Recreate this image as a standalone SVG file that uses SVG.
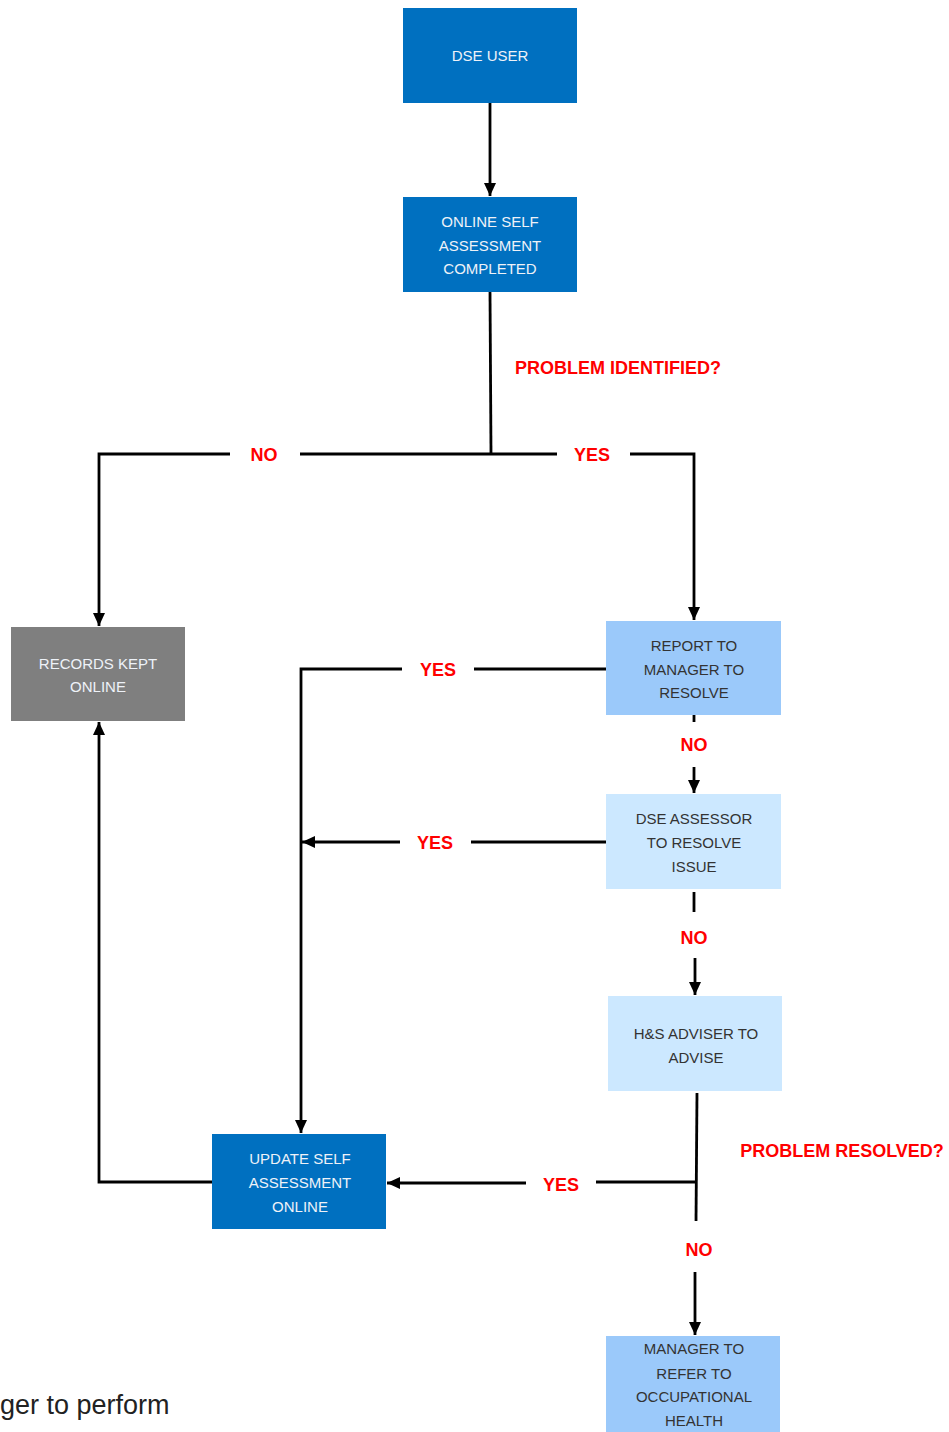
<svg xmlns="http://www.w3.org/2000/svg" width="949" height="1432" viewBox="0 0 949 1432">
<style>
.t{font-family:"Liberation Sans",Arial,sans-serif;font-size:15px;text-anchor:middle}
.w{fill:#EEF2F8}
.d{fill:#333333}
.lbl{font-family:"Liberation Sans",Arial,sans-serif;font-size:18px;font-weight:bold;fill:#FF0000;text-anchor:middle}
.c{stroke:#000;stroke-width:2.8;fill:none}
.dark{fill:#0070C0}
.gray{fill:#7F7F7F}
.mid{fill:#9BC9FA}
.pale{fill:#CCE8FF}
</style>
<defs>
<marker id="ah" markerUnits="userSpaceOnUse" markerWidth="14" markerHeight="14" refX="13" refY="7" orient="auto">
<path d="M0,1 L13,7 L0,13 Z" fill="#000"/>
</marker>
</defs>
<g id="connectors">
<path class="c" d="M490,103 V196" marker-end="url(#ah)"/>
<path class="c" d="M490,292 L491,454"/>
<path class="c" d="M230,454 H99 V626" marker-end="url(#ah)"/>
<path class="c" d="M300,454 H557"/>
<path class="c" d="M630,454 H694 V620" marker-end="url(#ah)"/>
<path class="c" d="M606,669 H474"/>
<path class="c" d="M402,669 H301 V1133" marker-end="url(#ah)"/>
<path class="c" d="M694,715 V722"/>
<path class="c" d="M694,767 V793" marker-end="url(#ah)"/>
<path class="c" d="M606,842 H471"/>
<path class="c" d="M400,842 H302" marker-end="url(#ah)"/>
<path class="c" d="M694,892 V912"/>
<path class="c" d="M695,958 V995" marker-end="url(#ah)"/>
<path class="c" d="M697,1093 L696,1221"/>
<path class="c" d="M696,1182 H596"/>
<path class="c" d="M526,1183 H387" marker-end="url(#ah)"/>
<path class="c" d="M695,1272 V1335" marker-end="url(#ah)"/>
<path class="c" d="M212,1182 H99 V722" marker-end="url(#ah)"/>
</g>
<g id="labels">
<text class="lbl" x="618" y="374">PROBLEM IDENTIFIED?</text>
<text class="lbl" x="264" y="461">NO</text>
<text class="lbl" x="592" y="461">YES</text>
<text class="lbl" x="438" y="676">YES</text>
<text class="lbl" x="694" y="751">NO</text>
<text class="lbl" x="435" y="849">YES</text>
<text class="lbl" x="694" y="944">NO</text>
<text class="lbl" x="842" y="1157">PROBLEM RESOLVED?</text>
<text class="lbl" x="561" y="1191">YES</text>
<text class="lbl" x="699" y="1256">NO</text>
</g>
<g id="dse-user">
<rect class="dark" x="403" y="8" width="174" height="95"/>
<text class="t w" x="490" y="61">DSE USER</text>
</g>
<g id="online-self-assessment">
<rect class="dark" x="403" y="197" width="174" height="95"/>
<text class="t w" x="490" y="227">ONLINE SELF</text>
<text class="t w" x="490" y="251">ASSESSMENT</text>
<text class="t w" x="490" y="274">COMPLETED</text>
</g>
<g id="records-kept">
<rect class="gray" x="11" y="627" width="174" height="94"/>
<text class="t w" x="98" y="669">RECORDS KEPT</text>
<text class="t w" x="98" y="692">ONLINE</text>
</g>
<g id="report-to-manager">
<rect class="mid" x="606" y="621" width="175" height="94"/>
<text class="t d" x="694" y="651">REPORT TO</text>
<text class="t d" x="694" y="675">MANAGER TO</text>
<text class="t d" x="694" y="698">RESOLVE</text>
</g>
<g id="dse-assessor">
<rect class="pale" x="606" y="794" width="175" height="95"/>
<text class="t d" x="694" y="824">DSE ASSESSOR</text>
<text class="t d" x="694" y="848">TO RESOLVE</text>
<text class="t d" x="694" y="872">ISSUE</text>
</g>
<g id="hs-adviser">
<rect class="pale" x="608" y="996" width="174" height="95"/>
<text class="t d" x="696" y="1039">H&amp;S ADVISER TO</text>
<text class="t d" x="696" y="1063">ADVISE</text>
</g>
<g id="update-self-assessment">
<rect class="dark" x="212" y="1134" width="174" height="95"/>
<text class="t w" x="300" y="1164">UPDATE SELF</text>
<text class="t w" x="300" y="1188">ASSESSMENT</text>
<text class="t w" x="300" y="1212">ONLINE</text>
</g>
<g id="manager-refer">
<rect class="mid" x="606" y="1336" width="174" height="96"/>
<text class="t d" x="694" y="1354">MANAGER TO</text>
<text class="t d" x="694" y="1379">REFER TO</text>
<text class="t d" x="694" y="1402">OCCUPATIONAL</text>
<text class="t d" x="694" y="1426">HEALTH</text>
</g>
<text x="0" y="1414" font-family="Liberation Sans, Arial, sans-serif" font-size="27" fill="#222">ger to perform</text>
</svg>
